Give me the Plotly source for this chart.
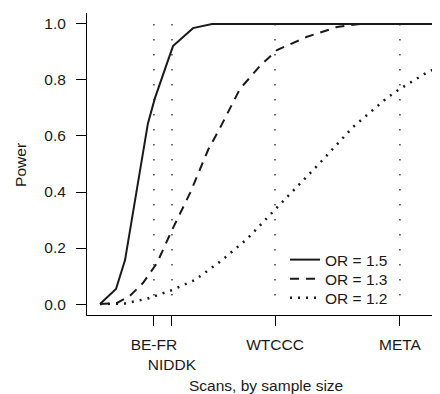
import plotly.graph_objects as go

# ---- data (x: sample-size scale, thousands; y: power) ----
x_or15 = [0, 0.96, 1.50, 2.10, 2.57, 2.87, 3.29, 4.37, 5.57, 6.71, 20.0]
power_or15 = [0, 0.054, 0.157, 0.37, 0.53, 0.645, 0.735, 0.921, 0.985, 1.0, 1.0]

x_or13 = [0, 1.02, 1.80, 2.57, 3.41, 4.31, 5.39, 6.47, 7.19, 8.38, 9.58, 10.60, 12.40, 14.19, 15.57, 20.0]
power_or13 = [0, 0.004, 0.03, 0.075, 0.146, 0.264, 0.396, 0.55, 0.629, 0.768, 0.85, 0.907, 0.954, 0.989, 1.0, 1.0]

x_or12 = [0, 1.50, 2.87, 4.31, 5.69, 7.31, 8.80, 10.48, 11.20, 13.17, 15.15, 17.19, 17.96, 19.64, 20.0]
power_or12 = [0, 0.002, 0.02, 0.05, 0.086, 0.157, 0.232, 0.339, 0.382, 0.504, 0.632, 0.736, 0.768, 0.829, 0.838]

series_names = ["OR = 1.5", "OR = 1.3", "OR = 1.2"]

study_names = ["BE-FR", "NIDDK", "WTCCC", "META"]
study_x = [3.23, 4.31, 10.48, 17.96]
study_labels = ["BE-FR", "<br>NIDDK", "WTCCC", "META"]

y_ticks = [0.0, 0.2, 0.4, 0.6, 0.8, 1.0]
y_ticklabels = ["0.0", "0.2", "0.4", "0.6", "0.8", "1.0"]

FONT = "Liberation Sans, Arial, Helvetica, sans-serif"
INK = "#1a1a1a"
FS = 15.5

fig = go.Figure()

# vertical dotted reference lines at each scan's sample size
for sx in study_x:
    fig.add_trace(go.Scatter(
        x=[sx, sx], y=[1.0, 0.0], mode="lines",
        line=dict(color="#222222", width=1.3, dash="1.5px,13.5px"),
        showlegend=False, hoverinfo="skip"))

styles = [("solid", 2), ("9px,7px", 2), ("2px,6px", 2.5)]
legend_ids = ["legend", "legend2", "legend3"]
xs = [x_or15, x_or13, x_or12]
ys = [power_or15, power_or13, power_or12]
for name, xv, yv, (dash, w), lg in zip(series_names, xs, ys, styles, legend_ids):
    fig.add_trace(go.Scatter(
        x=xv, y=yv, mode="lines", name=name, legend=lg,
        line=dict(color=INK, width=w, dash=dash)))

def leg(y):
    return dict(x=0.561, y=y, xanchor="left", yanchor="middle",
                bgcolor="rgba(0,0,0,0)", borderwidth=0,
                font=dict(family=FONT, size=FS, color=INK))

fig.update_layout(
    width=432, height=386,
    margin=dict(l=79, r=0, t=5, b=79),
    paper_bgcolor="white", plot_bgcolor="white",
    font=dict(family=FONT, size=FS, color=INK),
    showlegend=True,
    legend=leg(0.182), legend2=leg(0.119), legend3=leg(0.056),
    xaxis=dict(range=[-0.778, 20.36], showgrid=False, zeroline=False,
               showline=True, linecolor="black", linewidth=1,
               ticks="outside", ticklen=10, tickcolor="black", tickwidth=1,
               tickmode="array", tickvals=study_x, ticktext=study_labels,
               tickangle=0, ticklabelstandoff=5),
    yaxis=dict(range=[-0.039, 1.039], showgrid=False, zeroline=False,
               showline=True, linecolor="black", linewidth=1,
               ticks="outside", ticklen=10, tickcolor="black", tickwidth=1,
               tickmode="array", tickvals=y_ticks, ticktext=y_ticklabels,
               ticklabelstandoff=7),
    annotations=[
        dict(text="Scans, by sample size", xref="paper", yref="paper",
             x=0.508, y=-0.2318, xanchor="center", yanchor="middle",
             showarrow=False, font=dict(size=FS, color=INK)),
        dict(text="Power", xref="paper", yref="paper",
             x=-0.187, y=0.497, xanchor="center", yanchor="middle",
             textangle=-90, showarrow=False, font=dict(size=FS, color=INK)),
    ],
)

fig.write_html("out.html")
